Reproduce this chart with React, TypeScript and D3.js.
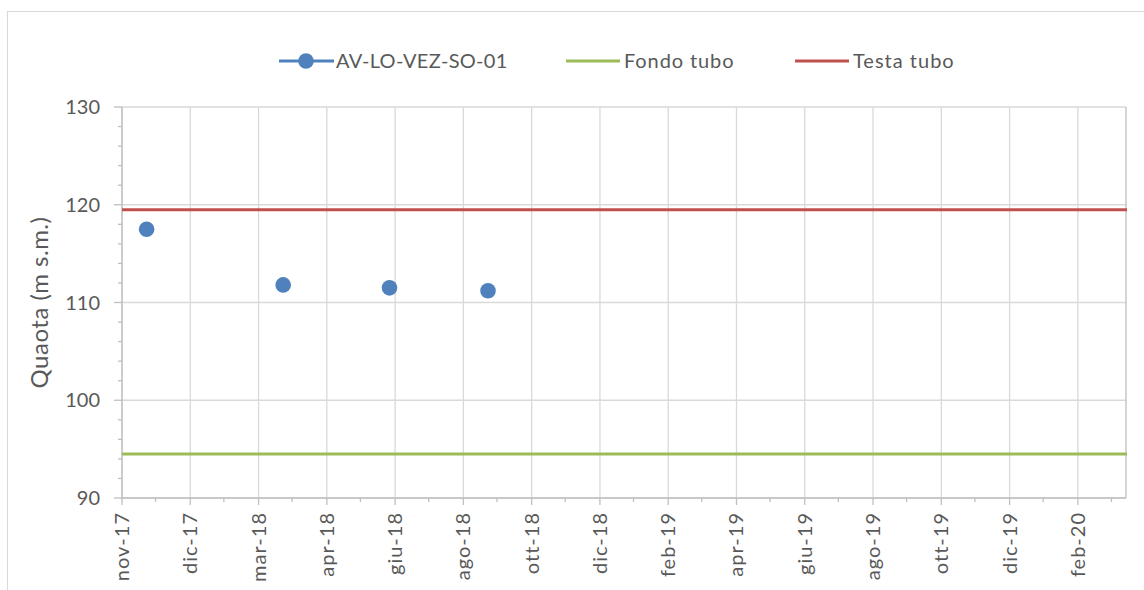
import React from 'react';
import * as d3 from 'd3';

// Excel-style date axis: major unit 61 days, labels as printed on the chart
const tickLabels = ['nov-17', 'dic-17', 'mar-18', 'apr-18', 'giu-18', 'ago-18', 'ott-18', 'dic-18',
  'feb-19', 'apr-19', 'giu-19', 'ago-19', 'ott-19', 'dic-19', 'feb-20'];
const axisStart = '2017-11-01';
const axisEnd = '2020-04-16';
const majorDays = 61;

// measured levels
const measureDates = ['2017-11-23', '2018-03-25', '2018-06-28', '2018-09-24'];
const measureValues = [117.5, 111.8, 111.5, 111.2];

const fondoTubo = 94.5;
const testaTubo = 119.5;

const yTicks = [90, 100, 110, 120, 130];

const W = 1144;
const H = 590;
const margin = { left: 122, top: 107, right: 18, bottom: 92 };

const colors = { series: '#4F81BD', fondo: '#9BBB59', testa: '#C0504D', grid: '#D9D9D9', axis: '#BFBFBF', text: '#595959' };
const font = 'Lato, "Open Sans", sans-serif';

export default function App() {
  const parse = d3.utcParse('%Y-%m-%d');
  const start = parse(axisStart)!;
  const x = d3.scaleUtc()
    .domain([start, parse(axisEnd)!])
    .range([margin.left, W - margin.right]);
  const y = d3.scaleLinear().domain([90, 130]).range([H - margin.bottom, margin.top]);

  const majorTicks = tickLabels.map((_, i) => d3.utcDay.offset(start, i * majorDays));
  const minorTicks = tickLabels.map((_, i) => d3.utcDay.offset(start, i * majorDays + majorDays / 2))
    .filter(d => x(d) < W - margin.right);
  const yMinor = d3.range(90, 131, 2);

  const x0 = margin.left;
  const x1 = W - margin.right;
  const yb = H - margin.bottom;
  const points = measureDates.map((d, i) => ({ date: parse(d)!, value: measureValues[i] }));

  return (
    <div style={{ position: 'absolute', left: 0, top: 0 }}>
      <svg width={W} height={H} style={{ display: 'block', fontFamily: font }}>
        <rect x={0} y={0} width={W} height={H} fill="#fff" />
        <rect x={7.5} y={11.5} width={W} height={H} fill="none" stroke="#D9D9D9" strokeWidth={1} />

        {/* gridlines */}
        {yTicks.map(t => (
          <line key={'gy' + t} x1={x0} x2={x1} y1={y(t)} y2={y(t)} stroke={colors.grid} strokeWidth={1.3} />
        ))}
        {majorTicks.map((d, i) => (
          <line key={'gx' + i} x1={x(d)} x2={x(d)} y1={margin.top} y2={yb} stroke={colors.grid} strokeWidth={1.3} />
        ))}
        <line x1={x1} x2={x1} y1={margin.top} y2={yb} stroke={colors.axis} strokeWidth={1.3} />

        {/* axes */}
        <line x1={x0} x2={x0} y1={margin.top} y2={yb} stroke={colors.axis} strokeWidth={1.3} />
        <line x1={x0} x2={x1} y1={yb} y2={yb} stroke={colors.axis} strokeWidth={1.3} />
        {yTicks.map(t => (
          <line key={'ty' + t} x1={x0 - 8} x2={x0} y1={y(t)} y2={y(t)} stroke={colors.axis} strokeWidth={1.3} />
        ))}
        {yMinor.filter(t => t % 10 !== 0).map(t => (
          <line key={'tym' + t} x1={x0 - 4} x2={x0} y1={y(t)} y2={y(t)} stroke={colors.axis} strokeWidth={1.3} />
        ))}
        {majorTicks.map((d, i) => (
          <line key={'tx' + i} x1={x(d)} x2={x(d)} y1={yb} y2={yb + 7} stroke={colors.axis} strokeWidth={1.3} />
        ))}
        {minorTicks.map((d, i) => (
          <line key={'txm' + i} x1={x(d)} x2={x(d)} y1={yb} y2={yb + 4} stroke={colors.axis} strokeWidth={1.3} />
        ))}

        {/* tick labels */}
        {yTicks.map(t => (
          <text key={'ly' + t} x={x0 - 22} y={y(t)} dy="0.35em" textAnchor="end" fontSize={20} fill={colors.text}>{t}</text>
        ))}
        {majorTicks.map((d, i) => (
          <text key={'lx' + i} transform={`translate(${x(d)},${yb + 14}) rotate(-90)`} dy="0.35em"
            textAnchor="end" fontSize={20} letterSpacing={1} fill={colors.text}>{tickLabels[i]}</text>
        ))}
        <text transform={`translate(40,${(margin.top + yb) / 2}) rotate(-90)`} dy="0.35em" textAnchor="middle"
          fontSize={24} letterSpacing={0.5} fill={colors.text}>Quaota (m s.m.)</text>

        {/* reference lines */}
        <line x1={x0} x2={x1 + 1} y1={y(testaTubo)} y2={y(testaTubo)} stroke={colors.testa} strokeWidth={3} />
        <line x1={x0} x2={x1 + 1} y1={y(fondoTubo)} y2={y(fondoTubo)} stroke={colors.fondo} strokeWidth={3} />

        {/* measurements */}
        {points.map((p, i) => (
          <circle key={'p' + i} cx={x(p.date)} cy={y(p.value)} r={7.8} fill={colors.series} />
        ))}

        {/* legend */}
        <g fontSize={20} letterSpacing={0.3} fill={colors.text}>
          <line x1={279} x2={334} y1={61} y2={61} stroke={colors.series} strokeWidth={3} />
          <circle cx={306} cy={61} r={7.8} fill={colors.series} />
          <text x={336} y={61} dy="0.35em">AV-LO-VEZ-SO-01</text>
          <line x1={566} x2={620} y1={61} y2={61} stroke={colors.fondo} strokeWidth={3} />
          <text x={624} y={61} dy="0.35em" letterSpacing={0.9}>Fondo tubo</text>
          <line x1={795} x2={849} y1={61} y2={61} stroke={colors.testa} strokeWidth={3} />
          <text x={853} y={61} dy="0.35em" letterSpacing={1}>Testa tubo</text>
        </g>
      </svg>
    </div>
  );
}
